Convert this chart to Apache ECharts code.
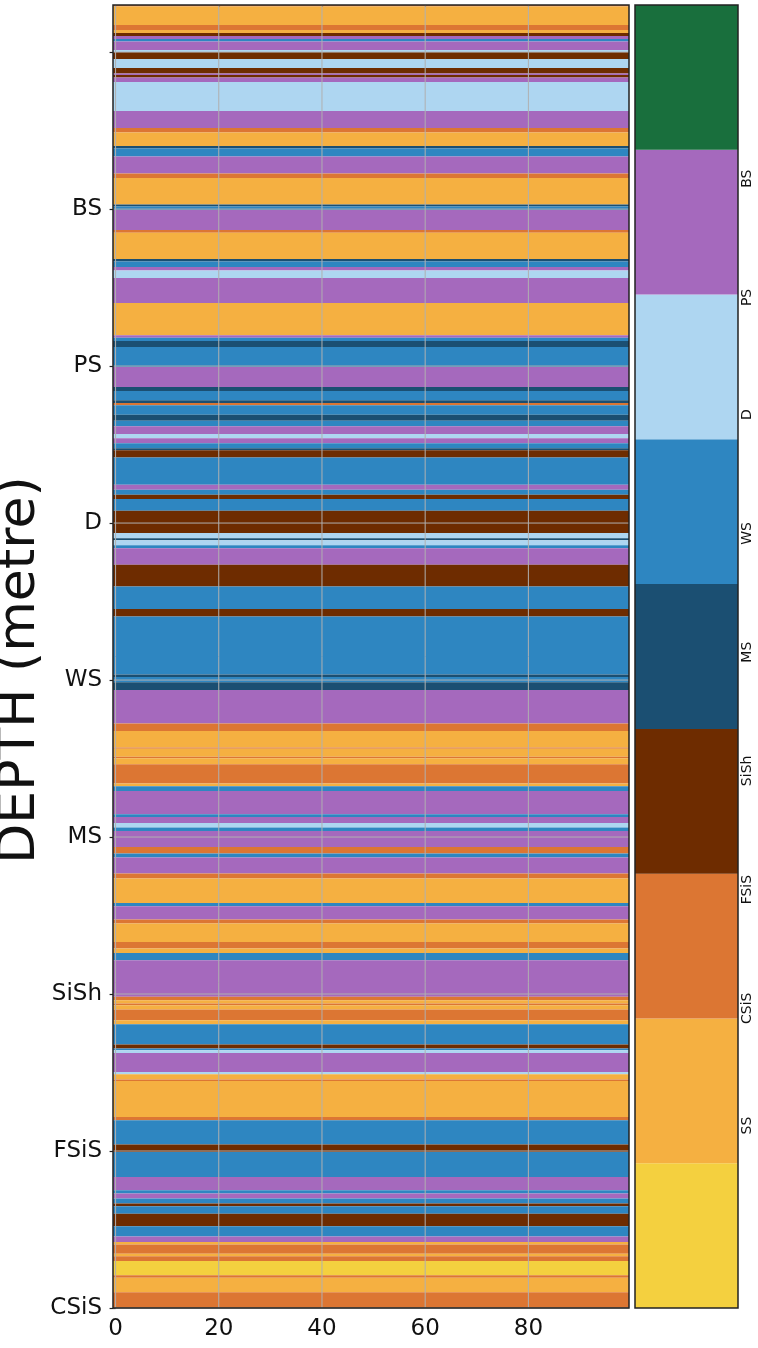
<!DOCTYPE html>
<html><head><meta charset="utf-8">
<script src="https://cdn.jsdelivr.net/npm/echarts@6/dist/echarts.min.js"></script>
<style>html,body{margin:0;padding:0;background:#fff}#chart{width:758px;height:1348px}</style>
</head><body><div id="chart"></div>
<script>
// ---- facies classes (colour bar) ----
const faciesNames = ['SS','CSiS','FSiS','SiSh','MS','WS','D','PS','BS'];
const faciesColors = ['#F4D03F','#F5B041','#DC7633','#6E2C00','#1B4F72','#2E86C1','#AED6F1','#A569BD','#196F3D'];

// ---- well log layers: top of each layer (depth units) and facies ----
const layerTops = [
  0, 1, 12.7, 15.9, 17.8, 19.75, 21.7, 23.3, 28.7, 29.9,
  34.4, 40.1, 43.6, 44.6, 46.2, 49.1, 67.5, 78.4, 81.2, 89.8,
  91.4, 96.5, 107.4, 110.2, 127.1, 128.4, 130.6, 143.4, 145.0, 161.8,
  163.4, 166.9, 169.2, 173.9, 189.9, 210.3, 211.9, 214.1, 217.9, 230.6,
  243.4, 245.9, 251.7, 253.6, 255.0, 261.0, 264.9, 268.4, 273.3, 275.9,
  279.1, 282.3, 283.7, 288.2, 305.6, 308.8, 312.0, 314.6, 322.2, 336.4,
  339.6, 340.9, 344.1, 346.0, 356.6, 370.4, 384.8, 389.5, 426.4, 428.0,
  431.4, 436.4, 457.7, 462.4, 473.0, 473.8, 478.9, 479.8, 483.6, 495.9,
  497.6, 500.6, 515.5, 517.2, 521.0, 523.9, 526.1, 536.3, 540.5, 543.1,
  553.3, 556.4, 572.0, 574.1, 582.6, 585.1, 596.8, 601.0, 603.8, 608.5,
  631.7, 634.0, 636.1, 637.1, 639.9, 646.7, 649.3, 662.2, 664.7, 665.8,
  667.5, 679.6, 681.1, 684.5, 685.4, 708.3, 710.4, 725.9, 730.6, 746.5,
  755.0, 757.1, 760.3, 763.5, 765.2, 769.9, 778.0, 784.4, 788.0, 789.5,
  795.4, 797.1, 800.1, 809.2, 810.7, 819.9
];
const layerFacies = [
  'FSiS','CSiS','FSiS','CSiS','SiSh','PS','WS','PS','D','SiSh',
  'D','SiSh','PS','SiSh','PS','D','PS','FSiS','CSiS','MS',
  'WS','PS','FSiS','CSiS','MS','WS','PS','FSiS','CSiS','MS',
  'WS','PS','D','PS','CSiS','PS','WS','MS','WS','PS',
  'MS','WS','MS','FSiS','WS','MS','WS','PS','D','PS',
  'WS','MS','SiSh','WS','PS','WS','SiSh','WS','SiSh','D',
  'MS','D','WS','PS','SiSh','WS','SiSh','WS','MS','WS',
  'MS','PS','FSiS','CSiS','FSiS','CSiS','FSiS','CSiS','FSiS','CSiS',
  'WS','PS','WS','PS','D','WS','PS','FSiS','WS','PS',
  'FSiS','CSiS','WS','PS','FSiS','CSiS','FSiS','CSiS','WS','PS',
  'FSiS','CSiS','FSiS','CSiS','FSiS','CSiS','WS','SiSh','WS','D',
  'PS','D','CSiS','FSiS','CSiS','FSiS','WS','SiSh','WS','PS',
  'WS','PS','WS','SiSh','WS','SiSh','WS','PS','CSiS','FSiS',
  'CSiS','FSiS','SS','FSiS','CSiS','FSiS'
];
const totalDepth = 830;
const xExtent = [-0.5, 99.5];

// ---- ticks ----
const xTickValues = [0, 20, 40, 60, 80];
const depthTickValues = [30, 130, 230, 330, 430, 530, 630, 730, 830];
const depthTickLabels = ['', 'BS', 'PS', 'D', 'WS', 'MS', 'SiSh', 'FSiS', 'CSiS'];
const colorbarTickPos = [1.26, 2.07, 2.89, 3.71, 4.53, 5.35, 6.17, 6.98, 7.80];
const colorbarTickLabels = ['SS','CSiS','FSiS','SiSh','MS','WS','D','PS','BS'];
const yAxisTitle = 'DEPTH (metre)';

// ---- build ----
const layerData = layerTops.map((t, i) => [
  t, i + 1 < layerTops.length ? layerTops[i + 1] : totalDepth, faciesNames.indexOf(layerFacies[i])
]);
const colorbarData = faciesNames.map((n, i) => [i, i + 1, i]);

const FONT = '"DejaVu Sans", sans-serif';
const chart = echarts.init(document.getElementById('chart'), null, {renderer: 'canvas'});

chart.setOption({
  animation: false,
  backgroundColor: '#ffffff',
  grid: [
    {left: 113, right: 129, top: 5, bottom: 40, show: true, z: 10,
     borderColor: '#222', borderWidth: 1.5, backgroundColor: 'transparent'},
    {left: 635, right: 20, top: 5, bottom: 40, show: true, z: 10,
     borderColor: '#222', borderWidth: 1.5, backgroundColor: 'transparent'}
  ],
  xAxis: [
    {type: 'value', gridIndex: 0, min: xExtent[0], max: xExtent[1],
     axisLine: {show: false}, splitLine: {show: false},
     axisTick: {show: true, customValues: xTickValues, length: 6, lineStyle: {color: '#222', width: 1.2}},
     axisLabel: {customValues: xTickValues, fontSize: 23, color: '#111', fontFamily: FONT, margin: 10}},
    {type: 'value', gridIndex: 1, min: 0, max: 1, show: false}
  ],
  yAxis: [
    {type: 'value', gridIndex: 0, inverse: true, min: 0, max: totalDepth,
     axisLine: {show: false}, splitLine: {show: false},
     axisTick: {show: true, customValues: depthTickValues, length: 6, lineStyle: {color: '#222', width: 1.2}},
     axisLabel: {customValues: depthTickValues, fontSize: 23, color: '#111', fontFamily: FONT, margin: 11,
                 formatter: v => { const k = depthTickValues.indexOf(v); return k >= 0 ? depthTickLabels[k] : ''; }}},
    {type: 'value', gridIndex: 1, min: 0, max: faciesNames.length, position: 'right',
     axisLine: {show: false}, axisTick: {show: false}, splitLine: {show: false},
     axisLabel: {customValues: colorbarTickPos, rotate: 90, fontSize: 14, color: '#111', fontFamily: FONT, margin: 2,
                 formatter: v => { const k = colorbarTickPos.indexOf(v); return k >= 0 ? colorbarTickLabels[k] : ''; }}}
  ],
  graphic: [
    {type: 'text', x: 20, y: 670, rotation: Math.PI / 2, z: 20,
     style: {text: yAxisTitle, fontSize: 52, fontFamily: FONT, fill: '#111', align: 'center', verticalAlign: 'middle'}}
  ],
  series: [
    {type: 'custom', name: 'facies', xAxisIndex: 0, yAxisIndex: 0, z: 2, clip: true,
     encode: {y: [0, 1]}, data: layerData,
     renderItem: (params, api) => {
       const p0 = api.coord([xExtent[0], api.value(0)]);
       const p1 = api.coord([xExtent[1], api.value(1)]);
       return {type: 'rect', shape: {x: p0[0], y: p0[1], width: p1[0] - p0[0], height: p1[1] - p0[1]},
               style: {fill: faciesColors[api.value(2)]}};
     }},
    {type: 'custom', name: 'xgrid', xAxisIndex: 0, yAxisIndex: 0, z: 3, silent: true,
     encode: {x: 0}, data: xTickValues.map(v => [v]),
     renderItem: (params, api) => {
       const p0 = api.coord([api.value(0), 0]);
       const p1 = api.coord([api.value(0), totalDepth]);
       return {type: 'line', shape: {x1: p0[0], y1: p0[1], x2: p1[0], y2: p1[1]},
               style: {stroke: '#b0b0b0', lineWidth: 1}};
     }},
    {type: 'custom', name: 'ygrid', xAxisIndex: 0, yAxisIndex: 0, z: 3, silent: true,
     encode: {y: 0}, data: depthTickValues.map(v => [v]),
     renderItem: (params, api) => {
       const p0 = api.coord([xExtent[0], api.value(0)]);
       const p1 = api.coord([xExtent[1], api.value(0)]);
       return {type: 'line', shape: {x1: p0[0], y1: p0[1], x2: p1[0], y2: p1[1]},
               style: {stroke: '#b0b0b0', lineWidth: 1}};
     }},
    {type: 'custom', name: 'colorbar', xAxisIndex: 1, yAxisIndex: 1, z: 2,
     encode: {y: [0, 1]}, data: colorbarData,
     renderItem: (params, api) => {
       const p0 = api.coord([0, api.value(1)]);
       const p1 = api.coord([1, api.value(0)]);
       return {type: 'rect', shape: {x: p0[0], y: p0[1], width: p1[0] - p0[0], height: p1[1] - p0[1]},
               style: {fill: faciesColors[api.value(2)]}};
     }}
  ]
});
</script>
</body></html>
